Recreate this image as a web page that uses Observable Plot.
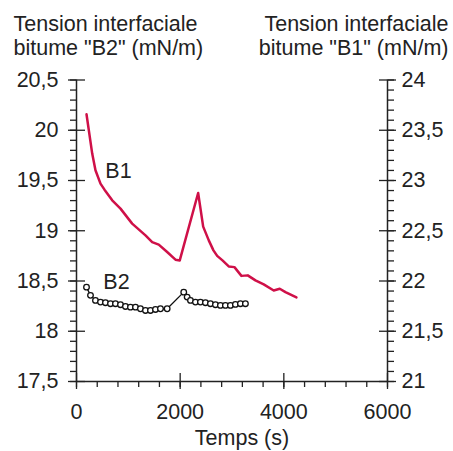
<!DOCTYPE html>
<html><head><meta charset="utf-8">
<script src="https://cdn.jsdelivr.net/npm/d3@7"></script>
<script src="https://cdn.jsdelivr.net/npm/@observablehq/plot@0.6"></script>
<style>body{margin:0;background:#fff}</style>
</head><body><div id="chart"></div>
<script>
// B1 (right axis, mN/m)
const b1Time = [193, 303, 366, 463, 540, 689, 849, 1074, 1331, 1460, 1587, 1749, 1909, 1992, 2347, 2444, 2552, 2642, 2714, 2816, 2937, 3047, 3182, 3304, 3452, 3612, 3805, 3921, 4031, 4243];
const b1Tension = [23.659, 23.268, 23.102, 22.969, 22.909, 22.803, 22.720, 22.571, 22.454, 22.387, 22.362, 22.288, 22.212, 22.205, 22.876, 22.541, 22.404, 22.305, 22.250, 22.205, 22.145, 22.138, 22.051, 22.056, 22.006, 21.966, 21.906, 21.923, 21.889, 21.837];
// B2 (left axis, mN/m)
const b2Time = [193, 270, 366, 463, 559, 656, 752, 849, 945, 1041, 1138, 1234, 1331, 1427, 1524, 1620, 1749, 2069, 2135, 2199, 2295, 2391, 2488, 2584, 2681, 2777, 2873, 2970, 3066, 3163, 3259];
const b2Tension = [18.439, 18.357, 18.307, 18.290, 18.284, 18.274, 18.274, 18.264, 18.247, 18.240, 18.240, 18.224, 18.207, 18.207, 18.217, 18.224, 18.224, 18.389, 18.340, 18.307, 18.290, 18.290, 18.284, 18.274, 18.264, 18.257, 18.257, 18.257, 18.267, 18.274, 18.274];

const xMajorTicks = [0, 2000, 4000, 6000];
const leftMajorTicks = [17.5, 18, 18.5, 19, 19.5, 20, 20.5];
const rightMajorTicks = [21, 21.5, 22, 22.5, 23, 23.5, 24];
const axisOffset = 3.5; // right axis value = left axis value + 3.5

const seriesLabels = ["B1", "B2"];
const seriesLabelTime = [810, 772];
const seriesLabelLeftValue = [19.59, 18.49];

const leftTitle = ["Tension interfaciale", "bitume \"B2\" (mN/m)"];
const rightTitle = ["Tension interfaciale", "bitume \"B1\" (mN/m)"];
const xTitle = "Temps (s)";

const fmt = d => String(+(+d).toFixed(1)).replace(".", ",");
const none = () => "";
const b1 = b1Time.map((t, i) => ({t, v: b1Tension[i] - axisOffset}));
const b2 = b2Time.map((t, i) => ({t, v: b2Tension[i]}));
const leftMinor = d3.range(175, 206).map(d => d / 10);
const xMinor = d3.range(0, 6001, 400);
const rightPos = rightMajorTicks.map(d => d - axisOffset);
const labels = seriesLabels.map((s, i) => ({s, t: seriesLabelTime[i], v: seriesLabelLeftValue[i]}));
const font = "'Liberation Sans', Arial, Helvetica, sans-serif";
const ink = "#222";
const tw = 1.3;
const fs = 21.5;

const plot = Plot.plot({
  width: 453, height: 451,
  marginLeft: 76, marginRight: 66, marginTop: 79.5, marginBottom: 70,
  style: {fontFamily: font, fontSize: fs + "px", color: ink, background: "#fff"},
  x: {domain: [xMajorTicks[0], xMajorTicks[xMajorTicks.length - 1]], axis: null},
  y: {domain: [leftMajorTicks[0], leftMajorTicks[leftMajorTicks.length - 1]], axis: null},
  marks: [
    // axis lines
    Plot.ruleX([xMajorTicks[0], xMajorTicks[xMajorTicks.length - 1]], {stroke: ink, strokeWidth: 1.5}),
    Plot.ruleY([leftMajorTicks[0]], {stroke: ink, strokeWidth: 1.5}),
    // left axis
    Plot.axisY(leftMinor, {anchor: "left", tickSize: 6, strokeWidth: tw, tickFormat: none, label: null}),
    Plot.axisY(leftMajorTicks, {anchor: "left", tickSize: 9, dx: 9, strokeWidth: tw, tickFormat: none, label: null}),
    Plot.axisY(leftMajorTicks, {anchor: "left", tickSize: 8, tickPadding: 10, strokeWidth: tw, tickFormat: fmt, fontSize: fs, label: null}),
    // right axis
    Plot.axisY(leftMinor, {anchor: "right", tickSize: 6, strokeWidth: tw, tickFormat: none, label: null}),
    Plot.axisY(rightPos, {anchor: "right", tickSize: 9, dx: -9, strokeWidth: tw, tickFormat: none, label: null}),
    Plot.axisY(rightPos, {anchor: "right", tickSize: 8, tickPadding: 6, strokeWidth: tw, tickFormat: d => fmt(d + axisOffset), fontSize: fs, label: null}),
    // bottom axis
    Plot.axisX(xMinor, {anchor: "bottom", tickSize: 6, strokeWidth: tw, tickFormat: none, label: null}),
    Plot.axisX(xMajorTicks, {anchor: "bottom", tickSize: 8, dy: -8, strokeWidth: tw, tickFormat: none, label: null}),
    Plot.axisX(xMajorTicks, {anchor: "bottom", tickSize: 8, tickPadding: 14, strokeWidth: tw, tickFormat: d => String(d), fontSize: fs, label: null}),
    // series
    Plot.line(b1, {x: "t", y: "v", stroke: "#cf1048", strokeWidth: 2.5, strokeLinejoin: "round"}),
    Plot.line(b2, {x: "t", y: "v", stroke: "#111", strokeWidth: 1.3}),
    Plot.dot(b2, {x: "t", y: "v", r: 2.8, stroke: "#111", fill: "white", strokeWidth: 1.3}),
    Plot.text(labels, {x: "t", y: "v", text: "s", fontSize: fs, fill: ink}),
    // titles
    Plot.text([leftTitle.join("\n")], {frameAnchor: "top-left", textAnchor: "start", lineAnchor: "top", dx: -63, dy: -66.5, lineHeight: 1.12, fontSize: fs, fill: ink}),
    Plot.text([rightTitle.join("\n")], {frameAnchor: "top-right", textAnchor: "end", lineAnchor: "top", dx: 61, dy: -66.5, lineHeight: 1.12, fontSize: fs, fill: ink}),
    Plot.text([xTitle], {frameAnchor: "bottom", lineAnchor: "top", dx: 10, dy: 48.5, fontSize: fs, fill: ink})
  ]
});
document.getElementById("chart").appendChild(plot);
</script>
</body></html>
